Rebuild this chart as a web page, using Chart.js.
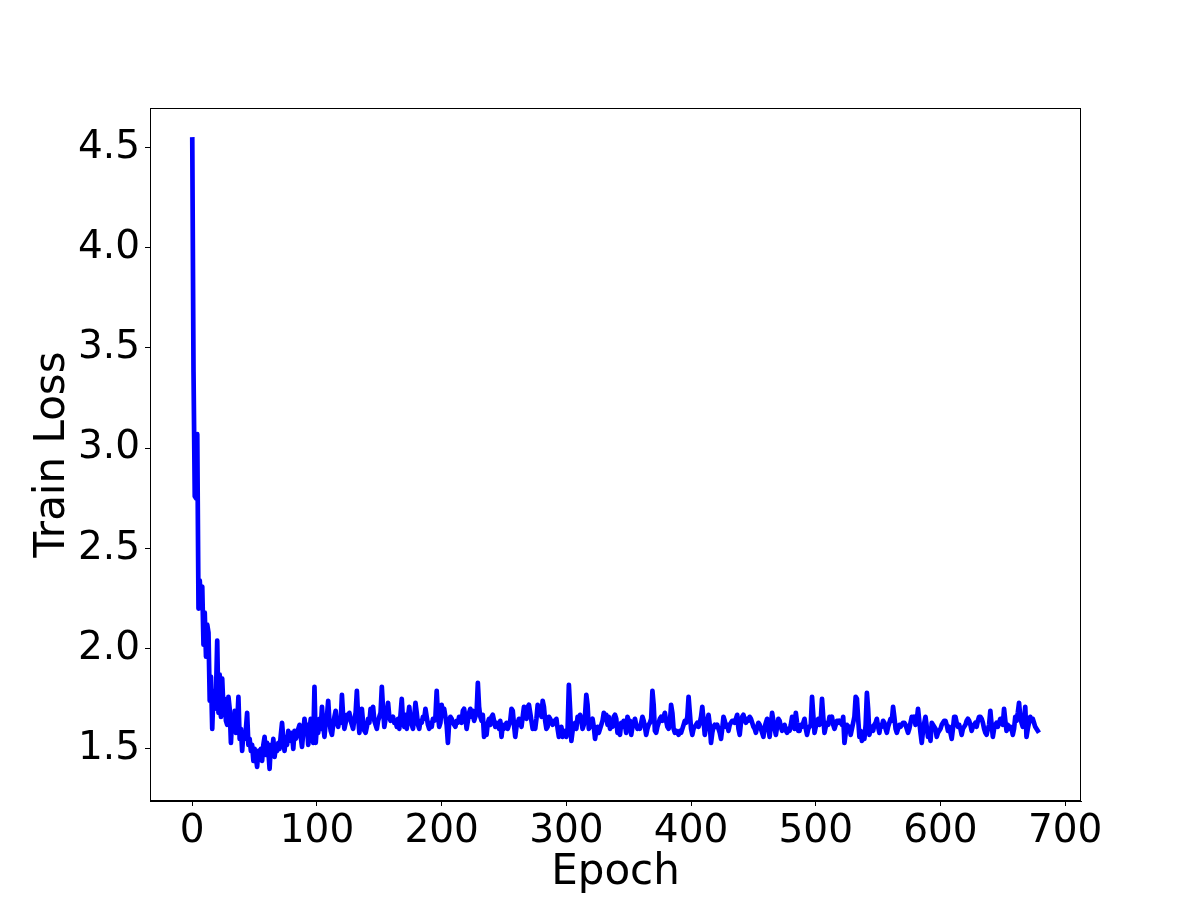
<!DOCTYPE html>
<html>
<head>
<meta charset="utf-8">
<script src="https://cdn.jsdelivr.net/npm/chart.js@4.4.1/dist/chart.umd.min.js"></script>
<style>
html, body { margin: 0; padding: 0; background: #fff; }
#wrap { width: 1200px; height: 900px; }
</style>
</head>
<body>
<div id="wrap"><canvas id="loss-chart" width="1200" height="900"></canvas></div>
<script>
// train loss per epoch (0..678)
var trainLoss = [
  4.54,3.38,2.76,2.75,3.07,2.20,2.34,2.22,2.31,2.02,2.18,1.96,2.12,2.08,1.74,1.86,1.60,1.79,1.70,1.77,
  2.04,1.68,1.87,1.66,1.85,1.70,1.75,1.64,1.62,1.76,1.70,1.53,1.66,1.60,1.69,1.58,1.62,1.76,1.55,1.60,
  1.49,1.58,1.55,1.60,1.68,1.52,1.55,1.49,1.52,1.44,1.50,1.46,1.41,1.49,1.47,1.50,1.44,1.52,1.56,1.47,
  1.53,1.49,1.40,1.52,1.48,1.55,1.46,1.51,1.49,1.53,1.50,1.57,1.63,1.55,1.49,1.56,1.52,1.59,1.57,1.54,
  1.58,1.50,1.59,1.55,1.57,1.60,1.62,1.56,1.51,1.58,1.65,1.60,1.62,1.52,1.59,1.65,1.57,1.53,1.81,1.53,
  1.62,1.58,1.65,1.60,1.71,1.62,1.56,1.63,1.66,1.74,1.64,1.59,1.57,1.62,1.66,1.69,1.63,1.61,1.65,1.63,
  1.77,1.66,1.60,1.63,1.67,1.66,1.68,1.64,1.62,1.60,1.65,1.68,1.79,1.66,1.58,1.64,1.70,1.63,1.59,1.58,
  1.61,1.65,1.63,1.70,1.66,1.71,1.64,1.62,1.60,1.64,1.66,1.68,1.81,1.70,1.61,1.65,1.68,1.73,1.66,1.64,
  1.65,1.66,1.63,1.64,1.61,1.65,1.60,1.67,1.75,1.64,1.61,1.67,1.60,1.66,1.71,1.65,1.62,1.60,1.66,1.73,
  1.68,1.62,1.60,1.64,1.63,1.66,1.65,1.70,1.66,1.62,1.60,1.63,1.61,1.65,1.64,1.66,1.79,1.67,1.61,1.63,
  1.72,1.68,1.70,1.66,1.62,1.53,1.63,1.66,1.65,1.63,1.62,1.61,1.64,1.63,1.66,1.65,1.63,1.69,1.70,1.66,
  1.60,1.64,1.68,1.70,1.66,1.69,1.64,1.66,1.68,1.83,1.71,1.66,1.64,1.67,1.56,1.62,1.57,1.63,1.65,1.62,
  1.66,1.67,1.64,1.61,1.63,1.62,1.60,1.64,1.56,1.62,1.60,1.61,1.63,1.60,1.62,1.64,1.70,1.69,1.62,1.56,
  1.61,1.63,1.65,1.64,1.61,1.66,1.71,1.70,1.65,1.71,1.72,1.68,1.64,1.60,1.62,1.60,1.65,1.72,1.68,1.71,
  1.66,1.74,1.71,1.64,1.60,1.61,1.66,1.65,1.63,1.62,1.64,1.63,1.65,1.60,1.56,1.58,1.61,1.56,1.57,1.59,
  1.56,1.60,1.82,1.70,1.54,1.59,1.61,1.63,1.60,1.66,1.65,1.67,1.64,1.60,1.62,1.67,1.77,1.72,1.60,1.61,
  1.64,1.65,1.61,1.55,1.59,1.61,1.58,1.60,1.62,1.64,1.68,1.66,1.67,1.62,1.66,1.60,1.62,1.61,1.66,1.67,
  1.65,1.58,1.59,1.57,1.63,1.61,1.64,1.62,1.58,1.66,1.64,1.64,1.57,1.61,1.63,1.65,1.62,1.60,1.61,1.60,
  1.63,1.66,1.64,1.61,1.57,1.60,1.62,1.63,1.65,1.79,1.72,1.59,1.58,1.61,1.63,1.65,1.66,1.64,1.66,1.68,
  1.64,1.61,1.60,1.63,1.72,1.68,1.60,1.58,1.59,1.58,1.57,1.59,1.58,1.60,1.62,1.64,1.63,1.66,1.76,1.68,
  1.60,1.57,1.60,1.61,1.62,1.63,1.61,1.63,1.66,1.71,1.64,1.57,1.61,1.64,1.67,1.62,1.53,1.58,1.61,1.62,
  1.61,1.62,1.60,1.58,1.55,1.60,1.66,1.64,1.61,1.62,1.59,1.62,1.63,1.64,1.64,1.63,1.65,1.67,1.60,1.57,
  1.63,1.66,1.67,1.64,1.63,1.65,1.64,1.66,1.65,1.63,1.61,1.60,1.58,1.61,1.63,1.62,1.60,1.58,1.56,1.61,
  1.63,1.65,1.60,1.56,1.62,1.68,1.64,1.60,1.57,1.61,1.65,1.64,1.61,1.59,1.60,1.62,1.59,1.58,1.60,1.59,
  1.62,1.66,1.63,1.60,1.68,1.63,1.59,1.59,1.62,1.61,1.63,1.65,1.60,1.57,1.60,1.61,1.62,1.76,1.67,1.58,
  1.61,1.63,1.65,1.62,1.64,1.75,1.66,1.58,1.61,1.63,1.62,1.66,1.65,1.66,1.62,1.60,1.62,1.64,1.63,1.64,
  1.63,1.62,1.66,1.53,1.58,1.62,1.60,1.61,1.57,1.60,1.63,1.66,1.76,1.75,1.65,1.56,1.59,1.54,1.58,1.55,
  1.62,1.78,1.70,1.57,1.60,1.61,1.59,1.62,1.63,1.65,1.61,1.58,1.62,1.61,1.64,1.63,1.60,1.58,1.61,1.63,
  1.65,1.64,1.71,1.66,1.60,1.58,1.60,1.62,1.61,1.62,1.63,1.63,1.62,1.60,1.58,1.60,1.63,1.66,1.65,1.66,
  1.62,1.64,1.70,1.64,1.58,1.53,1.59,1.63,1.66,1.61,1.56,1.60,1.54,1.63,1.62,1.61,1.60,1.56,1.58,1.59,
  1.60,1.62,1.63,1.64,1.64,1.62,1.59,1.61,1.58,1.55,1.60,1.66,1.66,1.63,1.61,1.62,1.60,1.57,1.60,1.61,
  1.62,1.64,1.65,1.64,1.62,1.59,1.61,1.62,1.63,1.61,1.64,1.66,1.66,1.65,1.63,1.60,1.58,1.57,1.60,1.62,
  1.69,1.62,1.56,1.60,1.62,1.63,1.61,1.63,1.65,1.64,1.62,1.70,1.64,1.59,1.62,1.60,1.61,1.60,1.57,1.60,
  1.66,1.64,1.68,1.73,1.66,1.63,1.61,1.64,1.71,1.56,1.60,1.63,1.66,1.64,1.65,1.63,1.61,1.60,1.59
];

var xTicks = [0, 100, 200, 300, 400, 500, 600, 700];
var yTicks = [1.5, 2.0, 2.5, 3.0, 3.5, 4.0, 4.5];

var points = trainLoss.map(function(v, i){ return {x: i, y: v}; });

// box around the plot area, like the matplotlib frame
var frame = {
  id: "frame",
  afterDraw: function(chart){
    var a = chart.chartArea, c = chart.ctx;
    c.save();
    c.strokeStyle = "#000";
    c.lineWidth = 1;
    c.strokeRect(Math.round(a.left) + 0.5, Math.round(a.top) + 0.5,
                 Math.round(a.right - a.left) - 1, Math.round(a.bottom - a.top) - 1);
    c.restore();
  }
};

Chart.defaults.font.family = "'DejaVu Sans', sans-serif";
Chart.defaults.color = "#000";

var ctx = document.getElementById("loss-chart");
var chart = new Chart(ctx, {
  type: "line",
  data: {
    datasets: [{
      label: "Train Loss",
      data: points,
      borderColor: "#0000ff",
      borderWidth: 4.7,
      pointRadius: 0,
      tension: 0,
      borderJoinStyle: "round",
      borderCapStyle: "square",
      fill: false
    }]
  },
  options: {
    responsive: false,
    animation: false,
    devicePixelRatio: 1,
    layout: { padding: { left: 0, top: 108, right: 119, bottom: 0 } },
    plugins: { legend: { display: false }, tooltip: { enabled: false } },
    scales: {
      x: {
        type: "linear",
        min: -33.9,
        max: 712.7,
        afterBuildTicks: function(s){ s.ticks = xTicks.map(function(v){ return {value: v}; }); },
        afterFit: function(s){ s.height = 99; },
        ticks: { font: { size: 39 }, color: "#000", padding: 2, maxRotation: 0, autoSkip: false,
                 callback: function(v){ return v; } },
        grid: { drawOnChartArea: false, tickLength: 5, color: "#000" },
        border: { color: "#000", width: 1 },
        title: { display: true, text: "Epoch", font: { size: 42 }, color: "#000", padding: { top: 0, bottom: 2 } }
      },
      y: {
        min: 1.24,
        max: 4.697,
        afterBuildTicks: function(s){ s.ticks = yTicks.map(function(v){ return {value: v}; }); },
        afterFit: function(s){ s.width = 150; },
        ticks: { font: { size: 39 }, color: "#000", padding: 5, autoSkip: false,
                 callback: function(v){ return v.toFixed(1); } },
        grid: { drawOnChartArea: false, tickLength: 5, color: "#000" },
        border: { color: "#000", width: 1 },
        title: { display: true, text: "Train Loss", font: { size: 42 }, color: "#000", padding: { top: 28, bottom: 0 } }
      }
    }
  },
  plugins: [frame]
});
</script>
</body>
</html>
